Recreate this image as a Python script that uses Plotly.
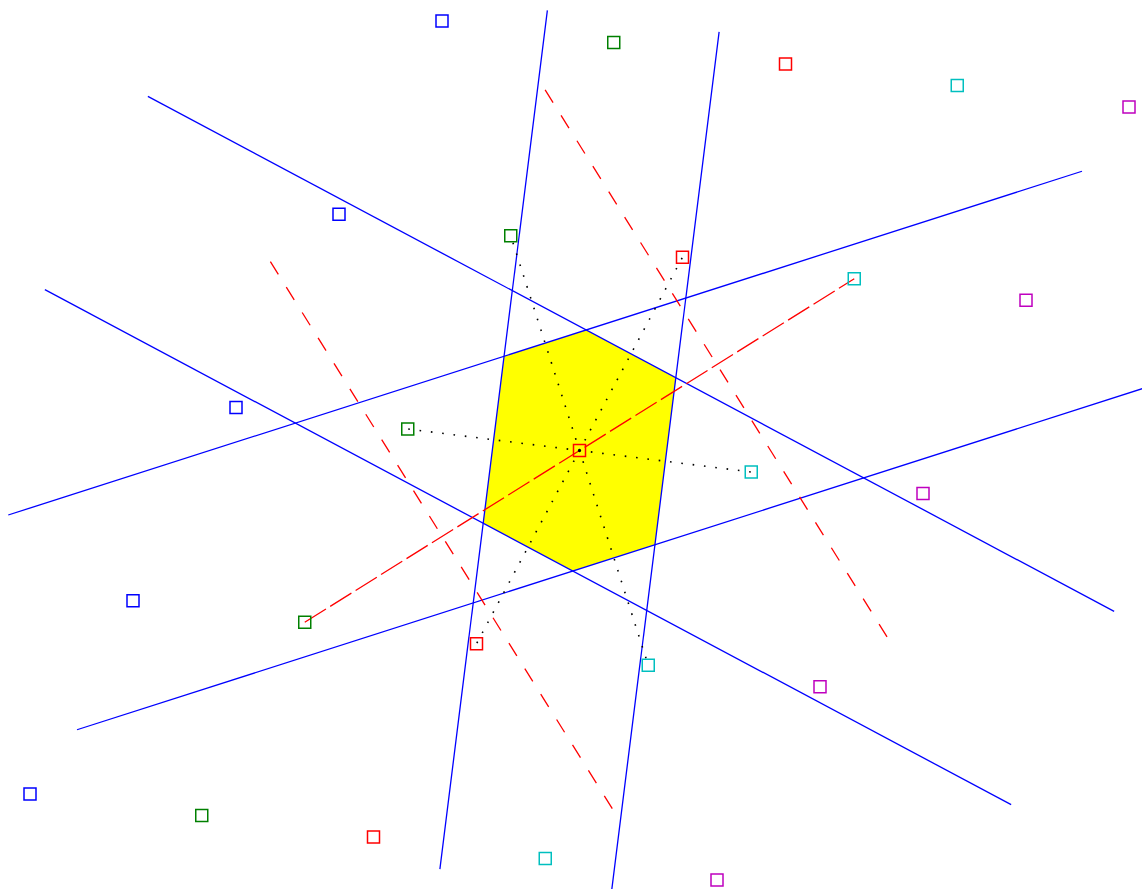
import numpy as np
import plotly.graph_objects as go

# Lattice description (screen-pixel units, y grows downward)
center = [579.5, 450.5]
basis_a = [171.75, 21.5]
basis_b = [-103.0, 193.25]
index_range = [-2, -1, 0, 1, 2]
column_colors = ["#0000ff", "#008000", "#ff0000", "#00bfbf", "#bf00bf"]

# nearest neighbours (in basis coordinates) and bisector half-length factors
neighbors = [(1, 0), (1, 1), (0, 1), (-1, 0), (-1, -1), (0, -1)]
bisector_extent = 2.5
second_shell = [(1, -1), (-1, 1)]
second_extent = 1.0

c = np.array(center)
A = np.array(basis_a)
B = np.array(basis_b)


def vec(ij):
    return ij[0] * A + ij[1] * B


def rot(v):
    return np.array([-v[1], v[0]])


fig = go.Figure()

# Wigner-Seitz cell: vertices from consecutive neighbour bisectors
verts = []
for k in range(len(neighbors)):
    u = vec(neighbors[k])
    w = vec(neighbors[(k + 1) % len(neighbors)])
    M = np.array([u, w])
    rhs = np.array([u @ u / 2, w @ w / 2])
    verts.append(c + np.linalg.solve(M, rhs))
verts.append(verts[0])
verts = np.array(verts)
fig.add_trace(go.Scatter(x=verts[:, 0], y=verts[:, 1], mode="lines", fill="toself",
                         fillcolor="#ffff00", line=dict(width=0, color="#ffff00"),
                         hoverinfo="skip"))

# blue perpendicular bisectors
for n in neighbors:
    v = vec(n)
    m = c + v / 2
    d = rot(v) * bisector_extent
    p = np.array([m - d, m + d])
    fig.add_trace(go.Scatter(x=p[:, 0], y=p[:, 1], mode="lines",
                             line=dict(color="#0000ff", width=1.3)))

# red dashed: long line through centre and second-shell bisectors
v2 = vec(second_shell[0])
p = np.array([c + vec(second_shell[1]), c + v2])
fig.add_trace(go.Scatter(x=p[:, 0], y=p[:, 1], mode="lines",
                         line=dict(color="#ff0000", width=1.3, dash="25px,5px")))
for n in second_shell:
    v = vec(n)
    m = c + v / 2
    d = rot(v) * second_extent
    p = np.array([m + d, m - d]) if n[0] < 0 else np.array([m - d, m + d])
    fig.add_trace(go.Scatter(x=p[:, 0], y=p[:, 1], mode="lines",
                             line=dict(color="#ff0000", width=1.3, dash="15px,15px")))

# dotted lines to nearest neighbours
for n in neighbors:
    q = c + vec(n)
    fig.add_trace(go.Scatter(x=[c[0], q[0]], y=[c[1], q[1]], mode="lines",
                             line=dict(color="#000000", width=1.6, dash="1.6px,9.8px")))

# lattice points
for i, col in zip(index_range, column_colors):
    pts = np.array([c + i * A + j * B for j in index_range])
    fig.add_trace(go.Scatter(x=pts[:, 0], y=pts[:, 1], mode="markers", cliponaxis=False,
                             marker=dict(symbol="square-open", size=12, color=col,
                                         line=dict(width=1.5, color=col))))

fig.update_layout(width=1142, height=889, margin=dict(l=0, r=0, t=0, b=0),
                  showlegend=False, plot_bgcolor="white", paper_bgcolor="white")
fig.update_xaxes(range=[0, 1142], visible=False)
fig.update_yaxes(range=[889, 0], visible=False)
fig.write_html("out.html", config={"displayModeBar": False},
               post_script="document.body.style.margin='0';document.body.style.overflow='hidden';")
